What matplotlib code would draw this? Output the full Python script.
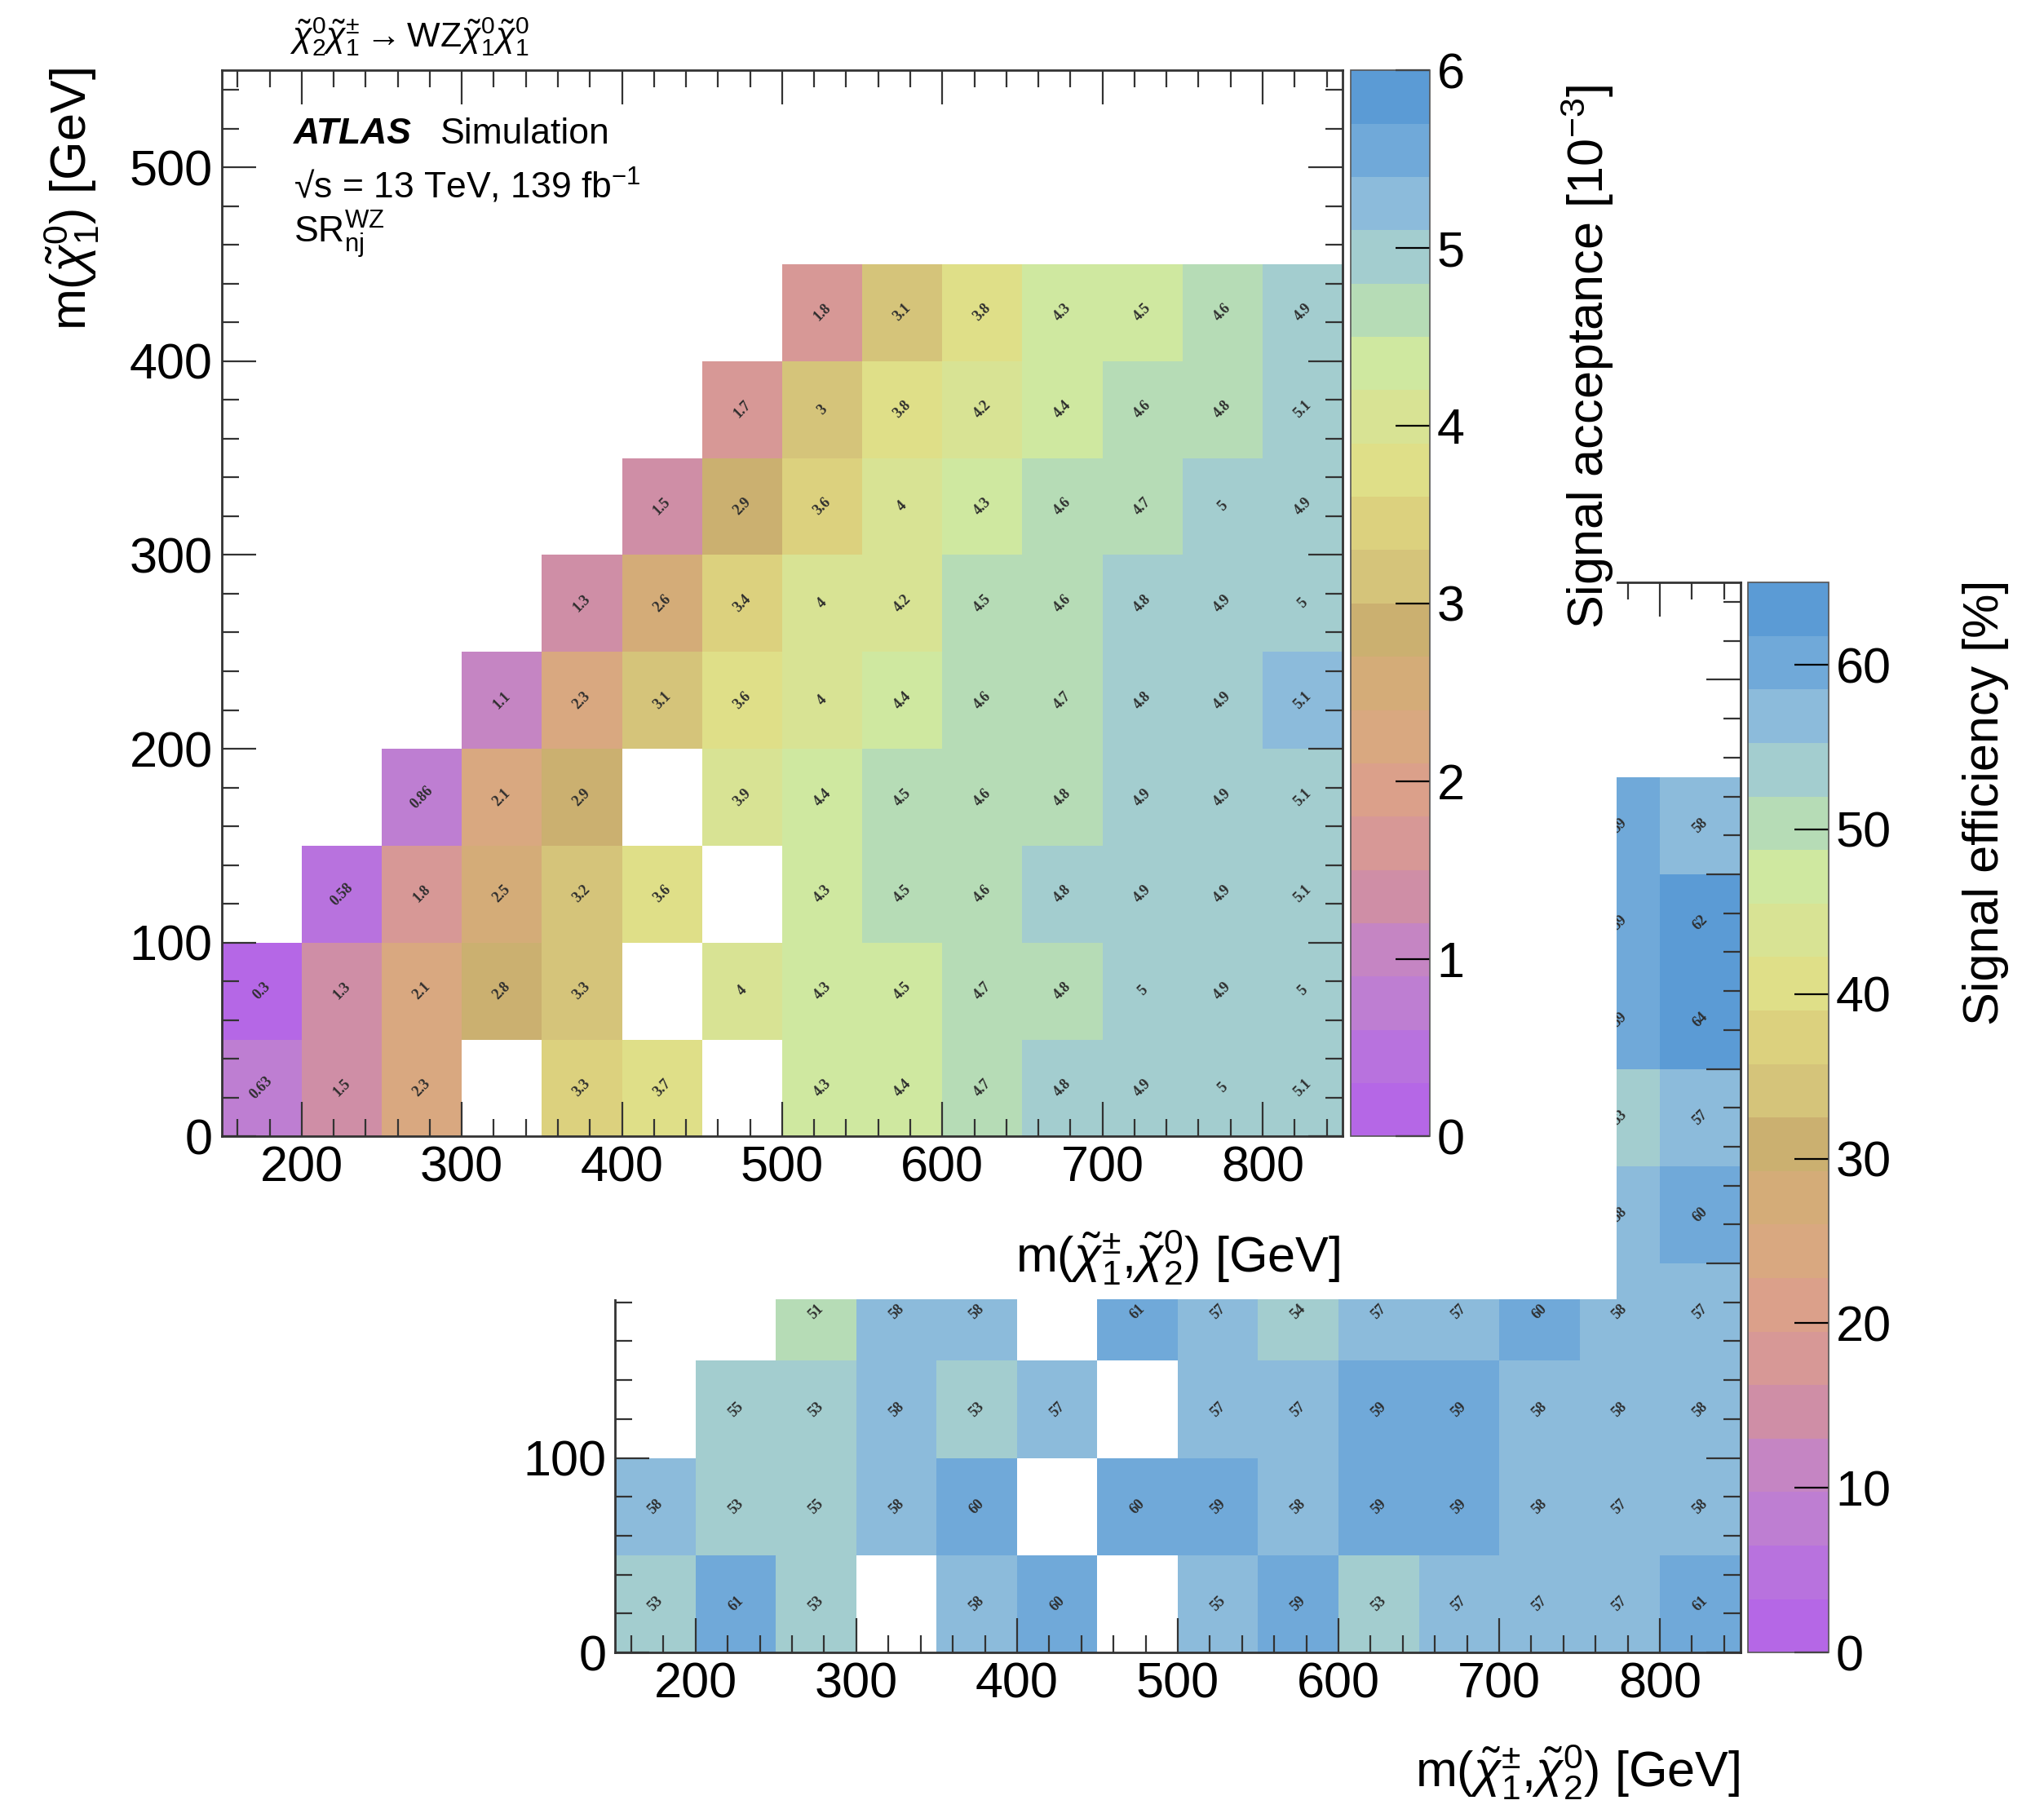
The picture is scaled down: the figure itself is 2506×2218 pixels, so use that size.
import matplotlib
matplotlib.use('Agg')
import matplotlib.pyplot as plt
import matplotlib.ticker as ticker
from matplotlib.colors import ListedColormap, Normalize
from matplotlib.patches import Rectangle
import numpy as np

plt.rcParams['font.family'] = ['Liberation Sans', 'DejaVu Sans']
plt.rcParams['mathtext.fontset'] = 'custom'
plt.rcParams['mathtext.rm'] = 'Liberation Sans'
plt.rcParams['mathtext.it'] = 'Liberation Sans:italic'
plt.rcParams['mathtext.bf'] = 'Liberation Sans:bold'

nan = np.nan

# bin edges: m(chi1+-, chi2^0) along x, m(chi1^0) along y
x_edges = np.arange(150, 851, 50)
y_edges = np.arange(0, 451, 50)

# signal acceptance [10^-3], rows from y=0-50 up to y=400-450
acc_rows = [
    [0.63, 1.48, 2.3, nan, 3.32, 3.7, nan, 4.3, 4.4, 4.7, 4.82, 4.9, 5.0, 5.08],
    [0.298, 1.3, 2.12, 2.8, 3.28, nan, 4.0, 4.3, 4.48, 4.7, 4.78, 5.0, 4.9, 5.0],
    [nan, 0.58, 1.78, 2.5, 3.2, 3.62, nan, 4.3, 4.52, 4.6, 4.82, 4.9, 4.9, 5.08],
    [nan, nan, 0.86, 2.12, 2.9, nan, 3.92, 4.4, 4.52, 4.6, 4.78, 4.9, 4.9, 5.08],
    [nan, nan, nan, 1.1, 2.3, 3.1, 3.62, 4.0, 4.4, 4.6, 4.7, 4.82, 4.9, 5.12],
    [nan, nan, nan, nan, 1.3, 2.6, 3.4, 4.0, 4.18, 4.52, 4.6, 4.82, 4.9, 5.0],
    [nan, nan, nan, nan, nan, 1.48, 2.9, 3.58, 4.0, 4.3, 4.6, 4.7, 5.0, 4.9],
    [nan, nan, nan, nan, nan, nan, 1.7, 3.02, 3.8, 4.18, 4.4, 4.6, 4.78, 5.08],
    [nan, nan, nan, nan, nan, nan, nan, 1.78, 3.1, 3.8, 4.3, 4.48, 4.6, 4.9],
]

# signal efficiency [%] (cells hidden behind the acceptance panel left empty)
eff_rows = [
    [53, 61, 53, nan, 58, 60, nan, 55.4, 59, 53, 57, 57, 57, 61],
    [58, 53, 55, 58, 60, nan, 60, 59, 58, 59, 59, 58, 57, 58],
    [nan, 55, 53, 58, 53, 57, nan, 57, 57, 59, 59, 58, 58, 58],
    [nan, nan, 51, 58, 58, nan, 61, 57, 54, 57, 57, 60, 58, 57],
    [nan, nan, nan, nan, nan, nan, nan, nan, nan, nan, nan, nan, 58, 60],
    [nan, nan, nan, nan, nan, nan, nan, nan, nan, nan, nan, nan, 53, 57],
    [nan, nan, nan, nan, nan, nan, nan, nan, nan, nan, nan, nan, 59, 64],
    [nan, nan, nan, nan, nan, nan, nan, nan, nan, nan, nan, nan, 59, 62],
    [nan, nan, nan, nan, nan, nan, nan, nan, nan, nan, nan, nan, 59, 58],
]

acc_ticks = [0, 1, 2, 3, 4, 5, 6]
eff_ticks = [0, 10, 20, 30, 40, 50, 60]

# 20-step palette, low to high
palette = ['#B567E6', '#B872DE', '#BE7ED2', '#C585C3', '#CF8EA6',
           '#D79896', '#DBA08A', '#D9A880', '#D4AC78', '#CBB070',
           '#D5C47A', '#DCD17E', '#DFDF88', '#D8E394', '#CFE8A0',
           '#B6DCB6', '#A3CDCF', '#8CBBDB', '#70A9D9', '#5B9BD5']
cmap = ListedColormap(palette)

fig = plt.figure(figsize=(25.06, 22.18), dpi=100)

TICK_FS = 44
LABEL_FS = 44


def style_axes(ax):
    ax.set_xlim(150, 850)
    ax.set_ylim(0, 550)
    ax.xaxis.set_major_locator(ticker.MultipleLocator(100))
    ax.xaxis.set_minor_locator(ticker.MultipleLocator(20))
    ax.yaxis.set_major_locator(ticker.MultipleLocator(100))
    ax.yaxis.set_minor_locator(ticker.MultipleLocator(20))
    ax.tick_params(which='both', direction='in', top=True, right=True, width=1.6, color='#333333')
    ax.tick_params(which='major', length=30, labelsize=TICK_FS, pad=8)
    ax.tick_params(which='minor', length=15)
    for sp in ax.spines.values():
        sp.set_linewidth(2)
        sp.set_color('#333333')


def fill_cells(ax, rows, vmax):
    data = np.ma.masked_invalid(np.array(rows, dtype=float))
    mesh = ax.pcolormesh(x_edges, y_edges, data, cmap=cmap, norm=Normalize(0, vmax))
    xc = (x_edges[:-1] + x_edges[1:]) / 2
    yc = (y_edges[:-1] + y_edges[1:]) / 2
    for i, y in enumerate(yc):
        for j, x in enumerate(xc):
            v = rows[i][j]
            if np.isnan(v):
                continue
            ax.text(x, y, f'{v:.2g}', rotation=45, ha='center', va='center',
                    fontsize=13, fontweight='bold', family='Liberation Serif', color='#2d2d2d')
    return mesh


def style_cbar(cb, ticks):
    cb.set_ticks(ticks)
    cb.minorticks_off()
    cb.outline.set_linewidth(1.2)
    cb.outline.set_edgecolor('#555555')
    cb.ax.tick_params(direction='in', length=30, width=1.6, labelsize=TICK_FS, pad=6)


# efficiency panel (drawn first, partly covered)
ax_eff = fig.add_axes([0.3010, 0.0865, 0.5504, 0.5915], zorder=0)
mesh_eff = fill_cells(ax_eff, eff_rows, 65)
style_axes(ax_eff)
cax_eff = fig.add_axes([0.8552, 0.0865, 0.0395, 0.5915], zorder=0)
cb_eff = fig.colorbar(mesh_eff, cax=cax_eff)
style_cbar(cb_eff, eff_ticks)

fig.text(0.8514, 0.0202, r'm($\tilde{\chi}^{\pm}_{1}$,$\tilde{\chi}^{0}_{2}$) [GeV]',
         ha='right', va='center', fontsize=LABEL_FS)
fig.text(0.9713, 0.6794, 'Signal efficiency [%]', rotation=90, ha='center', va='top',
         fontsize=LABEL_FS)

# white canvas of the acceptance panel on top
fig.add_artist(Rectangle((0, 0.2817), 0.7908, 0.7183, transform=fig.transFigure,
                         facecolor='white', edgecolor='none', zorder=1))

# acceptance panel
ax_acc = fig.add_axes([0.1084, 0.3718, 0.5485, 0.5893], zorder=2)
mesh_acc = fill_cells(ax_acc, acc_rows, 6)
style_axes(ax_acc)
cax_acc = fig.add_axes([0.6607, 0.3718, 0.0389, 0.5893], zorder=2)
cb_acc = fig.colorbar(mesh_acc, cax=cax_acc)
style_cbar(cb_acc, acc_ticks)

fig.text(0.6556, 0.3048, r'm($\tilde{\chi}^{\pm}_{1}$,$\tilde{\chi}^{0}_{2}$) [GeV]',
         ha='right', va='center', fontsize=LABEL_FS, zorder=4)
fig.text(0.0351, 0.9625, r'm($\tilde{\chi}^{0}_{1}$) [GeV]', rotation=90,
         ha='center', va='top', fontsize=LABEL_FS, zorder=4)
fig.text(0.7768, 0.9532, r'Signal acceptance [10$^{-3}$]', rotation=90,
         ha='center', va='top', fontsize=LABEL_FS, zorder=4)

fig.text(0.1416, 0.9798,
         r'$\tilde{\chi}^{0}_{2}\tilde{\chi}^{\pm}_{1}\rightarrow\mathrm{WZ}\tilde{\chi}^{0}_{1}\tilde{\chi}^{0}_{1}$',
         ha='left', va='center', fontsize=31, zorder=4)
fig.text(0.1435, 0.9258, 'ATLAS', fontsize=32, fontweight='bold', style='italic',
         ha='left', va='center', zorder=4)
fig.text(0.2156, 0.9258, 'Simulation', fontsize=32, ha='left', va='center', zorder=4)
fig.text(0.1435, 0.8970, r'√s = 13 TeV, 139 fb$^{-1}$', fontsize=32,
         ha='left', va='center', zorder=4)
fig.text(0.1435, 0.8703, r'SR$^{\mathrm{WZ}}_{\mathrm{nj}}$', fontsize=32,
         ha='left', va='center', zorder=4)

fig.savefig('out.png', dpi=100)
